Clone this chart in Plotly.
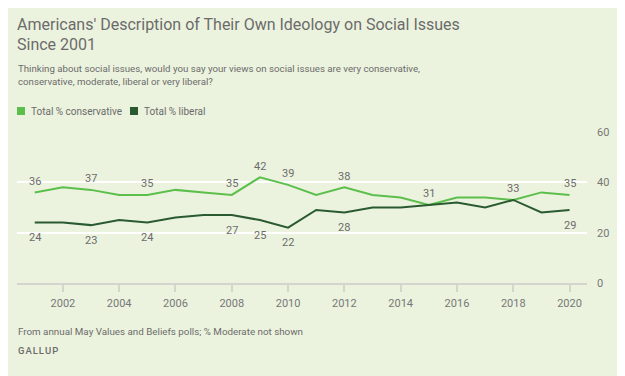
import plotly.graph_objects as go

years = list(range(2001, 2021))
conservative = [36, 38, 37, 35, 35, 37, 36, 35, 42, 39, 35, 38, 35, 34, 31, 34, 34, 33, 36, 35]
liberal = [24, 24, 23, 25, 24, 26, 27, 27, 25, 22, 29, 28, 30, 30, 31, 32, 30, 33, 28, 29]
cons_label_years = [2001, 2003, 2005, 2008, 2009, 2010, 2012, 2015, 2018, 2020]
lib_label_years = [2001, 2003, 2005, 2008, 2009, 2010, 2012, 2020]
series_names = ["Total % conservative", "Total % liberal"]
x_ticks = list(range(2002, 2021, 2))
y_ticks = [0, 20, 40, 60]

C_CONS = "#5CBF4C"
C_LIB = "#2A5A30"
BG = "#EBF3DE"
TXT = "#6B6B6B"
FONT = "Roboto, sans-serif"

# The page body has an 8px margin, so the figure is drawn at (8, 8) in the window.
W, H = 617, 368
PL, PR, PT, PB = 17, 587, 132, 283  # plot box in window pixels


def px(X):
    return (X - PL) / (PR - PL)


def py(Y):
    return (PB - Y) / (PB - PT)


fig = go.Figure()
fig.add_trace(go.Scatter(x=years, y=conservative, mode="lines", name=series_names[0],
                         line=dict(color=C_CONS, width=2), showlegend=False, hoverinfo="x+y"))
fig.add_trace(go.Scatter(x=years, y=liberal, mode="lines", name=series_names[1],
                         line=dict(color=C_LIB, width=2), showlegend=False, hoverinfo="x+y"))

annotations = []
for yr in cons_label_years:
    v = conservative[years.index(yr)]
    annotations.append(dict(x=yr, y=v, text=str(v), showarrow=False, yshift=11,
                            font=dict(size=11, color=TXT, family=FONT)))
for yr in lib_label_years:
    v = liberal[years.index(yr)]
    annotations.append(dict(x=yr, y=v, text=str(v), showarrow=False, yshift=-15,
                            font=dict(size=11, color=TXT, family=FONT)))


def text_line(txt, X, Y, size, family=FONT, color=TXT):
    annotations.append(dict(xref="paper", yref="paper", x=px(X), y=py(Y), xanchor="left",
                            yanchor="middle", align="left", showarrow=False, text=txt,
                            font=dict(size=size, color=color, family=family)))


text_line("Americans' Description of Their Own Ideology on Social Issues", 15, 25, 16)
text_line("Since 2001", 15, 45, 16)
text_line("Thinking about social issues, would you say your views on social issues are very conservative,", 16, 68, 9.7)
text_line("conservative, moderate, liberal or very liberal?", 16, 81.5, 9.7)

# legend (manual swatches)
legend_x = [17, 130]
shapes = []
for i, (nm, col) in enumerate(zip(series_names, [C_CONS, C_LIB])):
    shapes.append(dict(type="rect", xref="paper", yref="paper",
                       x0=px(legend_x[i]), x1=px(legend_x[i] + 8), y0=py(115), y1=py(107),
                       fillcolor=col, line=dict(width=0)))
    text_line(nm, legend_x[i] + 12, 111, 10)

# footer
text_line("From annual May Values and Beliefs polls; % Moderate not shown", 16, 331, 9.8)
text_line("G\u200aA\u200aL\u200aL\u200aU\u200aP", 16, 350, 9.5, family="Roboto Medium, Roboto, sans-serif")

fig.update_layout(
    width=W, height=H,
    margin=dict(l=PL - 8, r=W - (PR - 8), t=PT - 8, b=H - (PB - 8)),
    paper_bgcolor=BG, plot_bgcolor=BG,
    font=dict(family=FONT, color=TXT),
    showlegend=False,
    annotations=annotations, shapes=shapes,
    xaxis=dict(range=[2000.37, 2020.62], tickvals=x_ticks, ticktext=[str(t) for t in x_ticks],
               showgrid=False, zeroline=False, showline=True, linecolor="#D2D6CE", linewidth=2,
               ticks="outside", ticklen=7, tickcolor="#D2D6CE", tickwidth=1.5, ticklabelstandoff=2,
               tickfont=dict(size=11, color="#777777", family=FONT)),
    yaxis=dict(range=[0, 60], tickvals=y_ticks, side="right", showgrid=True, gridcolor="#FFFFFF",
               gridwidth=2, zeroline=False, showline=False, ticks="", ticklabelstandoff=9,
               tickfont=dict(size=11, color="#777777", family=FONT)),
)

fig.write_html("out.html")
